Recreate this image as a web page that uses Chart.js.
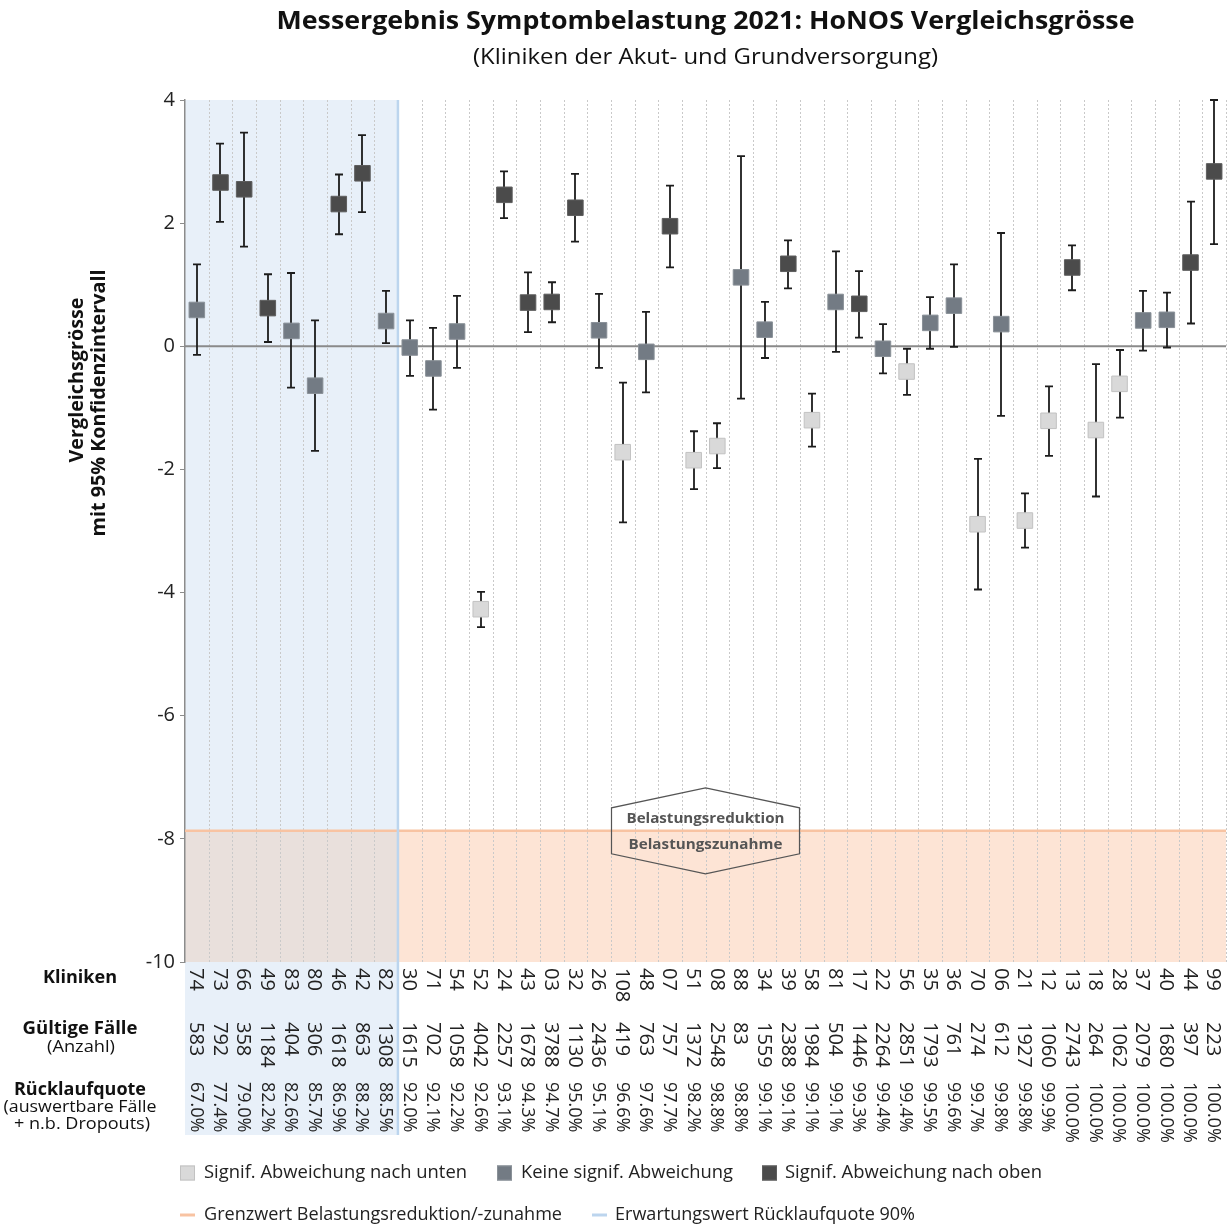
<!DOCTYPE html>
<html>
<head>
<meta charset="utf-8">
<title>Messergebnis Symptombelastung 2021: HoNOS Vergleichsgrösse</title>
<script src="https://cdn.jsdelivr.net/npm/chart.js@4.4.1/dist/chart.umd.min.js"></script>
<style>
  html, body { margin: 0; padding: 0; background: #ffffff; overflow: hidden; }
  canvas { display: block; }
</style>
</head>
<body>
<canvas id="chart" width="1231" height="1226"></canvas>
<script>
// Clinics, sorted by response rate
const clinics = ['74','73','66','49','83','80','46','42','82','30','71','54','52','24','43','03','32','26','108','48','07','51','08','88','34','39','58','81','17','22','56','35','36','70','06','21','12','13','18','28','37','40','44','99'];
const validCases = [583,792,358,1184,404,306,1618,863,1308,1615,702,1058,4042,2257,1678,3788,1130,2436,419,763,757,1372,2548,83,1559,2388,1984,504,1446,2264,2851,1793,761,274,612,1927,1060,2743,264,1062,2079,1680,397,223];
const responseRates = [67.0,77.4,79.0,82.2,82.6,85.7,86.9,88.2,88.5,92.0,92.1,92.2,92.6,93.1,94.3,94.7,95.0,95.1,96.6,97.6,97.7,98.2,98.8,98.8,99.1,99.1,99.1,99.1,99.3,99.4,99.4,99.5,99.6,99.7,99.8,99.8,99.9,100.0,100.0,100.0,100.0,100.0,100.0,100.0];
// Comparison measure with 95% confidence interval
const scores = [0.59,2.66,2.55,0.62,0.25,-0.64,2.31,2.81,0.41,-0.02,-0.36,0.24,-4.27,2.46,0.71,0.72,2.25,0.26,-1.72,-0.09,1.95,-1.85,-1.62,1.12,0.27,1.34,-1.20,0.72,0.69,-0.04,-0.41,0.38,0.66,-2.89,0.36,-2.83,-1.21,1.28,-1.36,-0.61,0.42,0.43,1.36,2.84];
const ciLower = [-0.14,2.02,1.62,0.07,-0.67,-1.70,1.82,2.18,0.05,-0.48,-1.03,-0.35,-4.56,2.08,0.23,0.39,1.70,-0.35,-2.86,-0.75,1.28,-2.32,-1.98,-0.85,-0.19,0.94,-1.63,-0.09,0.14,-0.44,-0.79,-0.04,-0.01,-3.95,-1.13,-3.27,-1.78,0.91,-2.44,-1.16,-0.07,-0.02,0.37,1.66];
const ciUpper = [1.33,3.29,3.47,1.17,1.19,0.42,2.79,3.43,0.90,0.42,0.30,0.82,-3.99,2.84,1.20,1.04,2.80,0.85,-0.59,0.56,2.61,-1.38,-1.25,3.09,0.72,1.72,-0.77,1.54,1.22,0.36,-0.04,0.80,1.33,-1.83,1.84,-2.39,-0.65,1.64,-0.29,-0.06,0.90,0.87,2.35,4.00];
// 'down' = significantly lower, 'none' = no significant deviation, 'up' = significantly higher
const significance = ['none','up','up','up','none','none','up','up','none','none','none','none','down','up','up','up','up','none','down','none','up','down','down','none','none','up','down','none','up','none','down','none','none','down','none','down','down','up','down','down','none','none','up','up'];
const yTickValues = [4, 2, 0, -2, -4, -6, -8, -10];
const thresholdValue = -7.87;   // limit between symptom reduction and increase
const expectedRate = 90;        // expected response rate in percent

const legendLabels = {
  down: 'Signif. Abweichung nach unten',
  none: 'Keine signif. Abweichung',
  up: 'Signif. Abweichung nach oben',
  threshold: 'Grenzwert Belastungsreduktion/-zunahme',
  expected: 'Erwartungswert Rücklaufquote 90%'
};

const FONT = '"Open Sans", "Noto Sans", "DejaVu Sans", sans-serif';
const markerFill = { down: '#d9d9d9', none: '#737b84', up: '#4b4b4b' };
const markerBorder = { down: '#c2c2c2', none: '#8a9198', up: '#5e5e5e' };
const blueFill = '#e8f0f9';
const orangeFill = '#fde4d5';
const overlapFill = '#e9e0dc';
const orangeLine = '#f8c3a2';
const blueLine = '#bcd5ee';
const tableBottom = 1135;

// Draw text stretched or squeezed horizontally to a given width
function fitText(ctx, text, x, y, width, align) {
  const w = ctx.measureText(text).width;
  ctx.save();
  ctx.translate(x, y);
  ctx.scale(width / w, 1);
  ctx.textAlign = align || 'center';
  ctx.fillText(text, 0, 0);
  ctx.restore();
}

const belowExpected = responseRates.filter(r => r < expectedRate).length;

const backdropPlugin = {
  id: 'backdrop',
  beforeDraw(chart) {
    const { ctx, chartArea: a, scales: { x, y } } = chart;
    const bx = (x.getPixelForValue(belowExpected - 1) + x.getPixelForValue(belowExpected)) / 2;
    const yt = y.getPixelForValue(thresholdValue);
    const step = x.getPixelForValue(1) - x.getPixelForValue(0);
    ctx.save();
    ctx.fillStyle = blueFill;
    ctx.fillRect(a.left, a.top, bx - a.left, tableBottom - a.top);
    ctx.fillStyle = orangeFill;
    ctx.fillRect(a.left, yt, a.right - a.left, a.bottom - yt);
    ctx.fillStyle = overlapFill;
    ctx.fillRect(a.left, yt, bx - a.left, a.bottom - yt);

    // dotted separators between clinics
    ctx.strokeStyle = '#c9c9c9';
    ctx.lineWidth = 1;
    ctx.setLineDash([2, 2]);
    for (let i = 1; i <= clinics.length; i++) {
      const px = Math.round(x.getPixelForValue(i - 1) + step / 2) + 0.5;
      ctx.beginPath();
      ctx.moveTo(px, a.top);
      ctx.lineTo(px, a.bottom);
      ctx.stroke();
    }
    ctx.setLineDash([]);
    ctx.restore();
  },
  beforeDatasetsDraw(chart) {
    const { ctx, chartArea: a, scales: { x, y } } = chart;
    const bx = (x.getPixelForValue(belowExpected - 1) + x.getPixelForValue(belowExpected)) / 2;
    const yt = y.getPixelForValue(thresholdValue);
    ctx.save();
    // threshold line
    ctx.strokeStyle = orangeLine;
    ctx.lineWidth = 2.5;
    ctx.beginPath();
    ctx.moveTo(a.left, yt);
    ctx.lineTo(a.right, yt);
    ctx.stroke();
    // expected response rate line
    ctx.strokeStyle = blueLine;
    ctx.lineWidth = 2.5;
    ctx.beginPath();
    ctx.moveTo(bx, a.top);
    ctx.lineTo(bx, tableBottom);
    ctx.stroke();
    // zero line
    const y0 = y.getPixelForValue(0);
    ctx.strokeStyle = '#8a8a8a';
    ctx.lineWidth = 2;
    ctx.beginPath();
    ctx.moveTo(a.left, y0);
    ctx.lineTo(a.right, y0);
    ctx.stroke();
    // confidence intervals
    ctx.strokeStyle = '#1c1c1c';
    ctx.lineWidth = 1.8;
    const cap = 4;
    for (let i = 0; i < clinics.length; i++) {
      const px = Math.round(x.getPixelForValue(i));
      const lo = y.getPixelForValue(ciLower[i]);
      const hi = y.getPixelForValue(ciUpper[i]);
      ctx.beginPath();
      ctx.moveTo(px, lo); ctx.lineTo(px, hi);
      ctx.moveTo(px - cap, lo); ctx.lineTo(px + cap, lo);
      ctx.moveTo(px - cap, hi); ctx.lineTo(px + cap, hi);
      ctx.stroke();
    }
    ctx.restore();
  },
  afterDatasetsDraw(chart) {
    const { ctx, chartArea: a, scales: { y } } = chart;
    const cx = (a.left + a.right) / 2;
    const cy = y.getPixelForValue(thresholdValue);
    ctx.save();
    ctx.strokeStyle = '#555555';
    ctx.lineWidth = 1.2;
    ctx.beginPath();
    ctx.moveTo(cx, cy - 43);
    ctx.lineTo(cx + 94, cy - 23);
    ctx.lineTo(cx + 94, cy + 23);
    ctx.lineTo(cx, cy + 43);
    ctx.lineTo(cx - 94, cy + 23);
    ctx.lineTo(cx - 94, cy - 23);
    ctx.closePath();
    ctx.stroke();
    ctx.fillStyle = '#555555';
    ctx.font = 'bold 15px ' + FONT;
    ctx.textBaseline = 'middle';
    fitText(ctx, 'Belastungsreduktion', cx, cy - 12, 158, 'center');
    fitText(ctx, 'Belastungszunahme', cx, cy + 14, 154, 'center');
    ctx.restore();
  },
  afterDraw(chart) {
    const { ctx, chartArea: a, scales: { x } } = chart;
    ctx.save();
    ctx.fillStyle = '#111111';
    ctx.textBaseline = 'middle';

    // titles
    const cx = (a.left + a.right) / 2;
    ctx.font = 'bold 25px ' + FONT;
    fitText(ctx, 'Messergebnis Symptombelastung 2021: HoNOS Vergleichsgrösse', cx, 22, 858, 'center');
    ctx.font = '21px ' + FONT;
    fitText(ctx, '(Kliniken der Akut- und Grundversorgung)', cx, 58, 465, 'center');

    // y axis title
    ctx.font = 'bold 19px ' + FONT;
    ctx.save();
    ctx.translate(78, 380);
    ctx.rotate(-Math.PI / 2);
    fitText(ctx, 'Vergleichsgrösse', 0, 0, 165, 'center');
    ctx.restore();
    ctx.save();
    ctx.translate(100, 403);
    ctx.rotate(-Math.PI / 2);
    fitText(ctx, 'mit 95% Konfidenzintervall', 0, 0, 267, 'center');
    ctx.restore();

    // table row headers
    ctx.fillStyle = '#111111';
    ctx.font = 'bold 18px ' + FONT;
    fitText(ctx, 'Kliniken', 80, 978, 74, 'center');
    fitText(ctx, 'Gültige Fälle', 80, 1029, 115, 'center');
    fitText(ctx, 'Rücklaufquote', 80, 1090, 132, 'center');
    ctx.font = '17px ' + FONT;
    fitText(ctx, '(Anzahl)', 81, 1047, 68, 'center');
    fitText(ctx, '(auswertbare Fälle', 80, 1107, 153, 'center');
    fitText(ctx, '+ n.b. Dropouts)', 82, 1124, 136, 'center');

    // table values, rotated
    ctx.fillStyle = '#222222';
    ctx.textAlign = 'left';
    const rows = [
      { top: 968, font: '20px ' + FONT, values: clinics },
      { top: 1022, font: '20px ' + FONT, values: validCases.map(String) },
      { top: 1082, font: '18px ' + FONT, values: responseRates.map(r => r.toFixed(1) + '%') }
    ];
    rows.forEach(row => {
      ctx.font = row.font;
      row.values.forEach((text, i) => {
        const px = x.getPixelForValue(i);
        ctx.save();
        ctx.translate(px, row.top);
        ctx.rotate(Math.PI / 2);
        ctx.fillText(text, 0, 1);
        ctx.restore();
      });
    });

    // legend
    ctx.font = '18px ' + FONT;
    ctx.fillStyle = '#222222';
    const row1 = 1173, row2 = 1215;
    const items = [
      { key: 'down', x: 180, tx: 204, w: 263 },
      { key: 'none', x: 497, tx: 521, w: 212 },
      { key: 'up', x: 762, tx: 785, w: 257 }
    ];
    items.forEach(it => {
      ctx.fillStyle = markerFill[it.key];
      ctx.fillRect(it.x, row1 - 7.5, 15, 15);
      ctx.strokeStyle = markerBorder[it.key];
      ctx.lineWidth = 1;
      ctx.strokeRect(it.x + 0.5, row1 - 7, 14, 14);
      ctx.fillStyle = '#222222';
      fitText(ctx, legendLabels[it.key], it.tx, row1, it.w, 'left');
    });
    ctx.lineWidth = 3;
    ctx.strokeStyle = orangeLine;
    ctx.beginPath(); ctx.moveTo(180, row2); ctx.lineTo(195, row2); ctx.stroke();
    ctx.strokeStyle = blueLine;
    ctx.beginPath(); ctx.moveTo(592, row2); ctx.lineTo(607, row2); ctx.stroke();
    ctx.fillStyle = '#222222';
    fitText(ctx, legendLabels.threshold, 204, row2, 358, 'left');
    fitText(ctx, legendLabels.expected, 615, row2, 300, 'left');
    ctx.restore();
  }
};

new Chart(document.getElementById('chart'), {
  type: 'line',
  data: {
    labels: clinics,
    datasets: [{
      data: scores,
      showLine: false,
      pointStyle: 'rect',
      pointRadius: 11,
      pointHoverRadius: 11,
      pointBorderWidth: 1,
      pointBackgroundColor: significance.map(s => markerFill[s]),
      pointBorderColor: significance.map(s => markerBorder[s])
    }]
  },
  options: {
    responsive: false,
    animation: false,
    events: [],
    layout: { autoPadding: false, padding: { top: 100, right: 5, bottom: 0, left: 0 } },
    plugins: { legend: { display: false }, title: { display: false }, tooltip: { enabled: false } },
    scales: {
      x: {
        type: 'category',
        offset: true,
        grid: { display: false },
        border: { display: false },
        ticks: { display: false },
        afterFit(scale) { scale.height = 264; }
      },
      y: {
        min: -10,
        max: 4,
        afterBuildTicks(scale) { scale.ticks = yTickValues.map(v => ({ value: v })); },
        ticks: {
          color: '#222222',
          font: { family: FONT, size: 20 },
          padding: 5,
          callback: v => String(v)
        },
        grid: { drawOnChartArea: false, drawTicks: true, tickLength: 5, color: '#8c8c8c' },
        border: { display: true, color: '#8c8c8c', width: 1.5 },
        afterFit(scale) { scale.width = 185; }
      }
    }
  },
  plugins: [backdropPlugin]
});
</script>
</body>
</html>
